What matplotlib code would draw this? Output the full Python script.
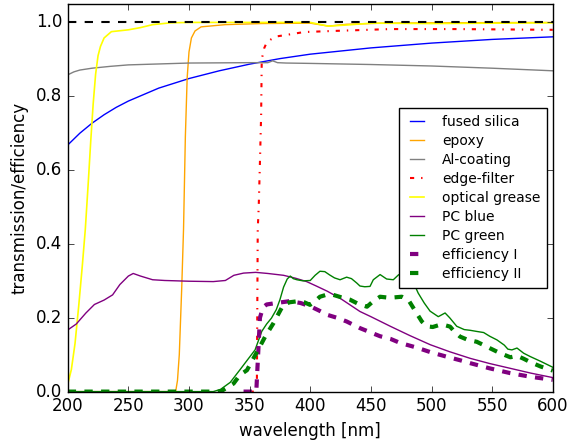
import matplotlib
matplotlib.use('Agg')
import matplotlib.pyplot as plt

# transmission curves (wavelength in nm, value 0..1)
silica_wl = [200, 210, 220, 230, 240, 250, 275, 300, 325, 350, 375, 400, 450, 500, 550, 600]
silica = [0.668, 0.70, 0.727, 0.75, 0.77, 0.787, 0.822, 0.848, 0.869, 0.887, 0.902, 0.914, 0.931, 0.944, 0.954, 0.961]

epoxy_wl = [200, 289, 290.5, 292, 294, 295.5, 297, 298.5, 300, 302, 305, 310, 330, 360, 400, 415, 430, 460, 500, 600]
epoxy = [0, 0, 0.03, 0.1, 0.28, 0.44, 0.69, 0.85, 0.92, 0.958, 0.977, 0.988, 0.994, 0.997, 0.998, 0.99, 0.995, 0.998, 0.999, 1.0]

al_wl = [200, 205, 210, 220, 235, 250, 300, 350, 365, 369, 373, 380, 400, 450, 500, 550, 600]
al = [0.858, 0.866, 0.871, 0.876, 0.881, 0.885, 0.89, 0.891, 0.891, 0.896, 0.891, 0.890, 0.889, 0.886, 0.882, 0.876, 0.869]

edge_wl = [350, 355.5, 356, 356.7, 357.5, 358.5, 359.5, 360, 362, 364, 368, 372, 380, 395, 420, 466, 520, 600]
edge = [0, 0, 0.03, 0.44, 0.5, 0.62, 0.75, 0.9, 0.93, 0.945, 0.955, 0.962, 0.966, 0.974, 0.977, 0.982, 0.982, 0.98]

grease_wl = [200, 203, 206, 209, 212, 214.5, 217, 219, 221, 223, 225, 227, 230, 236, 250, 260, 270, 285,
             300, 400, 415, 430, 450, 500, 600]
grease = [0.02, 0.06, 0.13, 0.23, 0.34, 0.44, 0.57, 0.68, 0.78, 0.86, 0.91, 0.935, 0.958, 0.975, 0.98, 0.986, 0.994, 0.999,
          1.0, 1.0, 0.99, 0.993, 0.998, 0.997, 0.999]

# photocathode QE
pcb_wl = [200, 207, 215, 222, 230, 237, 243, 250, 254, 260, 270, 280, 300, 320, 330, 337, 345, 355, 365, 378,
          388, 397, 405, 414, 425, 441, 450, 466, 482, 499, 515, 532, 548, 565, 582, 600]
pcb = [0.167, 0.183, 0.213, 0.236, 0.248, 0.262, 0.29, 0.313, 0.32, 0.313, 0.303, 0.301, 0.299, 0.298, 0.301, 0.315,
       0.321, 0.323, 0.32, 0.315, 0.307, 0.298, 0.286, 0.272, 0.252, 0.217, 0.203, 0.177, 0.152, 0.127, 0.108, 0.09,
       0.076, 0.063, 0.05, 0.038]

pcg_wl = [200, 320, 326, 334, 342, 348, 354.5, 360, 364, 368, 372, 375, 378, 381, 383.5, 386, 389, 394, 400, 404,
          408, 412, 416, 420, 424.6, 430, 434, 438.4, 441, 445, 449.3, 452, 457.6, 463, 468.5, 472.7, 478, 483, 486.4,
          489, 494, 498.8, 505.6, 511.2, 515, 520.8, 527, 532, 537.3, 543, 548, 554, 560, 563, 566.3, 570.5, 576,
          581.4, 590, 600]
pcg = [0, 0, 0.006, 0.025, 0.059, 0.085, 0.113, 0.163, 0.183, 0.199, 0.222, 0.249, 0.283, 0.305, 0.313, 0.306,
       0.303, 0.3, 0.301, 0.315, 0.326, 0.325, 0.316, 0.308, 0.303, 0.31, 0.306, 0.294, 0.286, 0.284, 0.285, 0.303,
       0.317, 0.305, 0.303, 0.316, 0.325, 0.31, 0.286, 0.267, 0.24, 0.218, 0.203, 0.213, 0.2, 0.177, 0.168, 0.166,
       0.163, 0.16, 0.15, 0.14, 0.126, 0.115, 0.113, 0.118, 0.104, 0.095, 0.082, 0.066]

# detection efficiency
eff1_wl = [345, 355.5, 357, 358.5, 361, 364, 372, 383, 392, 400, 407, 414, 422, 430, 441, 450, 457.6, 466, 474,
           488, 499, 512, 523.5, 532, 548, 565, 582, 600]
eff1 = [0, 0, 0.1, 0.2, 0.228, 0.236, 0.24, 0.245, 0.24, 0.231, 0.22, 0.208, 0.2, 0.19, 0.172, 0.16, 0.15, 0.143,
        0.132, 0.119, 0.107, 0.095, 0.085, 0.077, 0.063, 0.05, 0.04, 0.032]

eff2_wl = [200, 326, 336.8, 342, 347.8, 357, 363, 369.6, 374, 377.8, 383, 390, 395, 399.8, 404, 408, 413, 419, 425,
           432.8, 440, 446.8, 452, 457.6, 463, 468.5, 475.5, 481, 487.8, 492, 496, 501, 507, 511, 515.3, 519, 523.5,
           530, 537.3, 543, 548.5, 556, 565, 570.5, 576, 581.4, 590, 600]
eff2 = [0, 0, 0.022, 0.045, 0.058, 0.113, 0.15, 0.185, 0.212, 0.235, 0.242, 0.245, 0.242, 0.235, 0.245, 0.257,
        0.262, 0.262, 0.256, 0.249, 0.237, 0.23, 0.245, 0.257, 0.255, 0.255, 0.257, 0.248, 0.212, 0.19, 0.177, 0.175,
        0.181, 0.18, 0.176, 0.162, 0.149, 0.14, 0.135, 0.126, 0.117, 0.105, 0.093, 0.097, 0.089, 0.08, 0.068, 0.057]

plt.style.use('classic')

fig = plt.figure(figsize=(5.74, 4.41), dpi=100, facecolor='white')
ax = fig.add_axes([0.118, 0.112, 0.845, 0.879])

ax.plot(silica_wl, silica, color='blue', label='fused silica')
ax.plot(epoxy_wl, epoxy, color='orange', label='epoxy')
ax.plot(al_wl, al, color='gray', label='Al-coating')
ax.plot(edge_wl, edge, color='red', ls='-.', lw=1.5, label='edge-filter')
ax.plot(grease_wl, grease, color='yellow', lw=1.2, label='optical grease')
ax.plot(pcb_wl, pcb, color='purple', label='PC blue')
ax.plot(pcg_wl, pcg, color='green', label='PC green')
ax.plot(eff1_wl, eff1, color='purple', ls='--', lw=3, label='efficiency I')
ax.plot(eff2_wl, eff2, color='green', ls='--', lw=3, label='efficiency II')
ax.axhline(1.0, color='black', ls='--', lw=1.5)

ax.set_xlim(200, 600)
ax.set_ylim(0, 1.05)
ax.set_yticks([0.0, 0.2, 0.4, 0.6, 0.8, 1.0])
ax.set_xlabel('wavelength [nm]')
ax.set_ylabel('transmission/efficiency')

ax.legend(loc='center right', bbox_to_anchor=(0.989, 0.5), borderaxespad=0,
          fontsize=10, handlelength=1.6, handletextpad=1.0, borderpad=0.5,
          labelspacing=0.36, numpoints=2)

fig.savefig('out.png', dpi=100, facecolor='white')
